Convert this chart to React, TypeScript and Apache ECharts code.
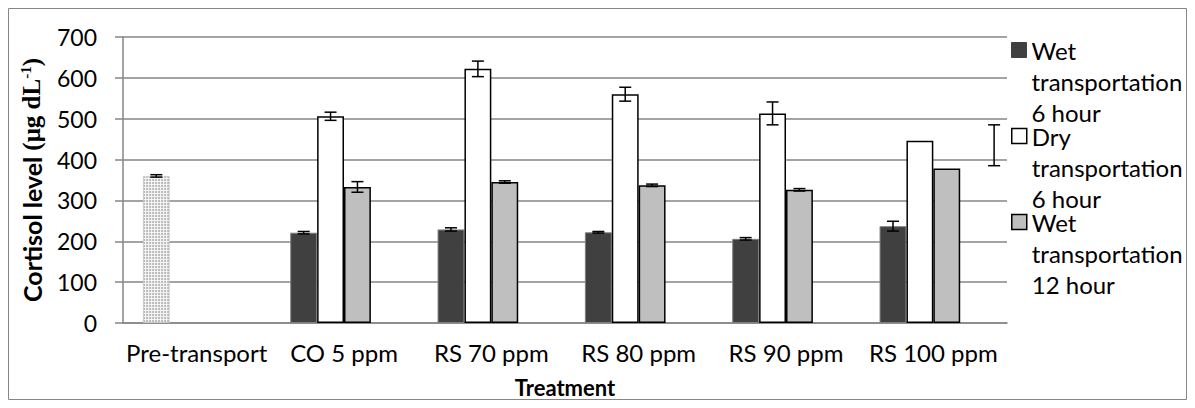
import React, { useEffect, useRef } from "react";
import * as echarts from "echarts";

const categories = ["Pre-transport", "CO 5 ppm", "RS 70 ppm", "RS 80 ppm", "RS 90 ppm", "RS 100 ppm"];
const seriesNames = ["Wet transportation 6 hour", "Dry transportation 6 hour", "Wet transportation 12 hour"];
const legendLabels = ["Wet\ntransportation\n6 hour", "Dry\ntransportation\n6 hour", "Wet\ntransportation\n12 hour"];
const wet6 = [360, 221, 229, 222, 206, 237];
const wet6Err = [3, 3, 4, 2, 3, 12];
const dry6 = [null, 506, 622, 560, 513, 446];
const dry6Err = [null, 10, 19, 17, 28, null];
const wet12 = [null, 333, 345, 337, 326, 378];
const wet12Err = [null, 13, 3, 3, 3, null];
// error bar of "Dry 6 hour, RS 100 ppm" that sits displaced to the right of its bar
const strayErrCategory = 5;
const strayErrValue = 435;
const strayErrSize = 50;

const yTicks = [0, 100, 200, 300, 400, 500, 600, 700];

const FONT = "Lato, 'Open Sans', sans-serif";
const GAP = 0.27;
const SLOTS = 4;

export default function App() {
  const ref = useRef<HTMLDivElement>(null);
  useEffect(() => {
    if (!ref.current) return;
    const chart = echarts.init(ref.current, undefined, { renderer: "svg" });

    const errData: number[][] = [];
    const addErr = (vals: (number | null)[], errs: (number | null)[], slot: number) => {
      vals.forEach((v, i) => {
        const e = errs[i];
        if (v != null && e != null) errData.push([i, v, e, slot]);
      });
    };
    addErr(wet6, wet6Err, 0);
    addErr(dry6, dry6Err, 1);
    addErr(wet12, wet12Err, 2);
    errData.push([strayErrCategory, strayErrValue, strayErrSize, 3.76]);

    const wet6Data = wet6.map((v, i) =>
      i === 0
        ? {
            value: v,
            itemStyle: {
              color: "#f4f4f4",
              borderColor: "#c8c8c8",
              borderWidth: 1,
              borderType: "dotted",
              decal: {
                symbol: "circle",
                symbolSize: 0.9,
                color: "#a8a8a8",
                backgroundColor: "#f4f4f4",
                dashArrayX: [2, 1],
                dashArrayY: [2, 1],
                rotation: 0,
              },
            },
          }
        : v
    );

    const legendTops = [-35.5, 50.5, 136.5];
    const legendStyles = [
      { color: "#404040", borderColor: "#404040", borderWidth: 1 },
      { color: "#ffffff", borderColor: "#000000", borderWidth: 1.5 },
      { color: "#bfbfbf", borderColor: "#000000", borderWidth: 1.5 },
    ];

    const option: any = {
      animation: false,
      textStyle: { fontFamily: FONT },
      graphic: [
        {
          type: "rect",
          shape: { x: 0.5, y: 0.5, width: 1178, height: 391 },
          style: { fill: "none", stroke: "#868686", lineWidth: 1 },
          silent: true,
        },
      ],
      grid: { left: 115, right: 180, top: 29, bottom: 77, containLabel: false, outerBoundsMode: "none" },
      legend: seriesNames.map((n, i) => ({
        data: [{ name: n, itemStyle: legendStyles[i] }],
        orient: "vertical",
        left: 1003,
        top: legendTops[i],
        padding: 0,
        icon: "rect",
        itemWidth: 15,
        itemHeight: 15,
        selectedMode: false,
        // two leading empty lines put the first text line level with the icon
        formatter: () => "\n\n" + legendLabels[i],
        textStyle: {
          fontFamily: FONT,
          fontSize: 24,
          color: "#000",
          lineHeight: 31,
        },
      })),
      xAxis: {
        type: "category",
        data: categories,
        axisLine: { lineStyle: { color: "#868686", width: 1.5 } },
        axisTick: { show: false },
        axisLabel: { color: "#000", fontSize: 24, margin: 17, interval: 0, fontFamily: FONT },
        name: "Treatment",
        nameLocation: "middle",
        nameGap: 53,
        nameTextStyle: { color: "#000", fontSize: 22, fontWeight: "bold", fontFamily: FONT },
      },
      yAxis: {
        type: "value",
        min: yTicks[0],
        max: yTicks[yTicks.length - 1],
        interval: 100,
        axisLine: { show: true, lineStyle: { color: "#868686", width: 1.5 } },
        axisTick: { show: true, length: 8, lineStyle: { color: "#868686", width: 1.5 } },
        splitLine: { lineStyle: { color: "#868686", width: 1.5 } },
        axisLabel: { color: "#000", fontSize: 23, margin: 26, fontFamily: FONT },
        name: "{a|Cortisol level }{b|(μg dL}{c|-1}{b|)}",
        nameLocation: "middle",
        nameGap: 78,
        nameTextStyle: {
          color: "#000",
          rich: {
            a: { fontFamily: FONT, fontSize: 25, fontWeight: "bold", color: "#000" },
            b: { fontFamily: "'Liberation Serif', serif", fontSize: 25, fontWeight: "bold", color: "#000" },
            c: { fontFamily: "'Liberation Serif', serif", fontSize: 15, fontWeight: "bold", color: "#000", verticalAlign: "top", padding: [0, 0, 12, 0] },
          },
        },
      },
      series: [
        {
          name: seriesNames[0],
          type: "bar",
          data: wet6Data,
          barGap: "0%",
          barCategoryGap: GAP * 100 + "%",
          itemStyle: { color: "#404040", borderColor: "#7f7f7f", borderWidth: 1 },
        },
        {
          name: seriesNames[1],
          type: "bar",
          data: dry6,
          itemStyle: { color: "#ffffff", borderColor: "#000000", borderWidth: 1.5 },
        },
        {
          name: seriesNames[2],
          type: "bar",
          data: wet12,
          itemStyle: { color: "#bfbfbf", borderColor: "#000000", borderWidth: 1.5 },
        },
        {
          name: "blank",
          type: "bar",
          data: categories.map(() => null),
        },
        {
          name: "errors",
          type: "custom",
          data: errData,
          z: 10,
          renderItem: (params: any, api: any) => {
            const cat = api.value(0);
            const v = api.value(1);
            const e = api.value(2);
            const slot = api.value(3);
            const catW = api.size([1, 0])[0];
            const groupW = catW * (1 - GAP);
            const slotW = groupW / SLOTS;
            const c = api.coord([cat, v]);
            const x = c[0] - groupW / 2 + slotW * (slot + 0.5);
            const yt = api.coord([cat, v + e])[1];
            const yb = api.coord([cat, v - e])[1];
            const cap = 6;
            const st = { stroke: "#000", lineWidth: 1.5 };
            return {
              type: "group",
              children: [
                { type: "line", shape: { x1: x, y1: yt, x2: x, y2: yb }, style: st },
                { type: "line", shape: { x1: x - cap, y1: yt, x2: x + cap, y2: yt }, style: st },
                { type: "line", shape: { x1: x - cap, y1: yb, x2: x + cap, y2: yb }, style: st },
              ],
            };
          },
        },
      ],
    };
    chart.setOption(option);
    return () => chart.dispose();
  }, []);
  return <div ref={ref} style={{ width: 1179, height: 392 }} />;
}
